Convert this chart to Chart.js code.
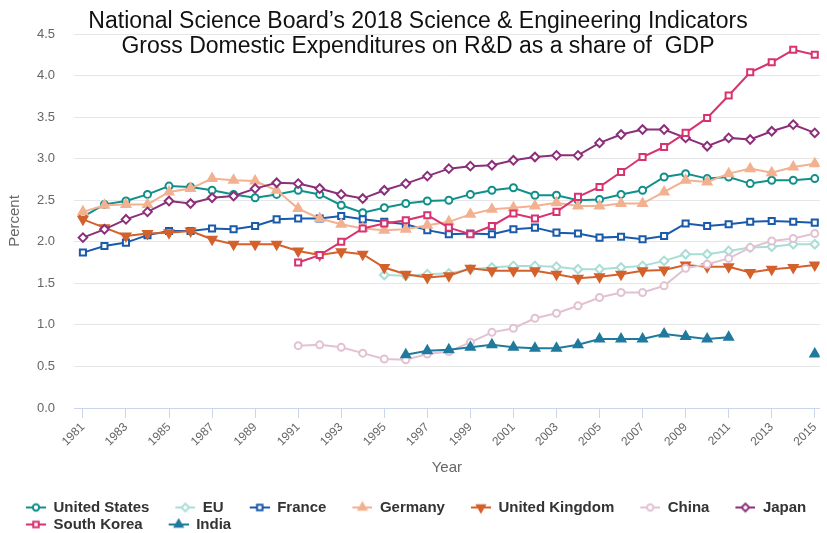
<!DOCTYPE html>
<html>
<head>
<meta charset="utf-8">
<script src="https://cdn.jsdelivr.net/npm/chart.js@4.4.1/dist/chart.umd.min.js"></script>
<style>
  body { margin: 0; background: #fff; }
  #wrap { position: relative; width: 827px; height: 533px; }
  #title {
    position: absolute; left: 418px; top: 8px; transform: translateX(-50%);
    white-space: nowrap; text-align: center; color: #111; pointer-events: none;
    font: 23px/25px "Liberation Sans", Arial, sans-serif;
  }
</style>
</head>
<body>
<div id="wrap">
  <canvas id="rdChart"></canvas>
  <div id="title">National Science Board’s 2018 Science &amp; Engineering Indicators<br>Gross Domestic Expenditures on R&amp;D as a share of&nbsp; GDP</div>
</div>
<script>
    // Years on the x axis
    const years = [1981, 1982, 1983, 1984, 1985, 1986, 1987, 1988, 1989, 1990,
      1991, 1992, 1993, 1994, 1995, 1996, 1997, 1998, 1999, 2000,
      2001, 2002, 2003, 2004, 2005, 2006, 2007, 2008, 2009, 2010,
      2011, 2012, 2013, 2014, 2015];

    // Odd years get a tick label
    const tickYears = [1981, 1983, 1985, 1987, 1989, 1991, 1993, 1995, 1997, 1999,
      2001, 2003, 2005, 2007, 2009, 2011, 2013, 2015];

    // R&D spending, percent of GDP (null = no data)
    const unitedStates = [2.30, 2.45, 2.49, 2.57, 2.67, 2.66, 2.62, 2.57, 2.53, 2.57,
      2.62, 2.57, 2.44, 2.35, 2.41, 2.46, 2.49, 2.50, 2.57, 2.62,
      2.65, 2.56, 2.56, 2.50, 2.51, 2.57, 2.62, 2.78, 2.82, 2.76,
      2.78, 2.70, 2.74, 2.74, 2.76];
    const eu = [null, null, null, null, null, null, null, null, null, null,
      null, null, null, null, 1.60, 1.59, 1.61, 1.62, 1.67, 1.69,
      1.71, 1.71, 1.70, 1.67, 1.67, 1.69, 1.71, 1.77, 1.85, 1.85,
      1.89, 1.93, 1.94, 1.97, 1.97];
    const france = [1.87, 1.95, 1.99, 2.08, 2.13, 2.13, 2.16, 2.15, 2.19, 2.27,
      2.28, 2.28, 2.31, 2.27, 2.24, 2.21, 2.14, 2.09, 2.10, 2.09,
      2.15, 2.17, 2.11, 2.10, 2.05, 2.06, 2.03, 2.07, 2.22, 2.19,
      2.21, 2.24, 2.25, 2.24, 2.23];
    const germany = [2.36, 2.44, 2.45, 2.45, 2.60, 2.64, 2.76, 2.74, 2.73, 2.62,
      2.40, 2.28, 2.21, 2.16, 2.14, 2.15, 2.20, 2.24, 2.33, 2.39,
      2.41, 2.43, 2.47, 2.43, 2.43, 2.46, 2.46, 2.60, 2.74, 2.72,
      2.82, 2.88, 2.83, 2.90, 2.94];
    const unitedKingdom = [2.27, 2.17, 2.07, 2.10, 2.11, 2.13, 2.03, 1.97, 1.97, 1.97,
      1.89, 1.84, 1.88, 1.85, 1.69, 1.61, 1.57, 1.59, 1.68, 1.65,
      1.65, 1.65, 1.61, 1.56, 1.58, 1.61, 1.65, 1.66, 1.72, 1.70,
      1.70, 1.63, 1.67, 1.69, 1.72];
    const china = [null, null, null, null, null, null, null, null, null, null,
      0.75, 0.76, 0.73, 0.66, 0.59, 0.58, 0.65, 0.68, 0.79, 0.91,
      0.96, 1.08, 1.14, 1.23, 1.33, 1.39, 1.39, 1.47, 1.68, 1.73,
      1.80, 1.93, 2.01, 2.04, 2.10];
    const japan = [2.05, 2.15, 2.27, 2.36, 2.49, 2.46, 2.53, 2.55, 2.64, 2.71,
      2.70, 2.64, 2.57, 2.52, 2.62, 2.70, 2.79, 2.88, 2.91, 2.92,
      2.98, 3.02, 3.04, 3.04, 3.19, 3.29, 3.35, 3.35, 3.25, 3.15,
      3.25, 3.23, 3.33, 3.41, 3.31];
    const southKorea = [null, null, null, null, null, null, null, null, null, null,
      1.75, 1.84, 2.00, 2.16, 2.22, 2.26, 2.32, 2.17, 2.09, 2.19,
      2.34, 2.28, 2.36, 2.54, 2.66, 2.84, 3.02, 3.14, 3.31, 3.49,
      3.76, 4.04, 4.16, 4.31, 4.25];
    const india = [null, null, null, null, null, null, null, null, null, null,
      null, null, null, null, null, 0.64, 0.69, 0.70, 0.73, 0.76,
      0.73, 0.72, 0.72, 0.76, 0.83, 0.83, 0.83, 0.89, 0.86, 0.83,
      0.85, null, null, null, 0.65];

    // Series look: name, data, colour, marker
    const seriesList = [
      { label: 'United States', data: unitedStates, color: '#11908a', shape: 'circle', radius: 3.5, filled: false },
      { label: 'EU', data: eu, color: '#a9ddd6', shape: 'rectRot', radius: 4.3, filled: false },
      { label: 'France', data: france, color: '#1a5aab', shape: 'rect', radius: 4.3, filled: false },
      { label: 'Germany', data: germany, color: '#f2b191', shape: 'triangle', radius: 5, filled: true },
      { label: 'United Kingdom', data: unitedKingdom, color: '#d4612b', shape: 'triangle', radius: 5, filled: true, rotation: 180 },
      { label: 'China', data: china, color: '#e2c2d2', shape: 'circle', radius: 3.5, filled: false },
      { label: 'Japan', data: japan, color: '#8b2f7a', shape: 'rectRot', radius: 4.3, filled: false },
      { label: 'South Korea', data: southKorea, color: '#d8336f', shape: 'rect', radius: 4.3, filled: false },
      { label: 'India', data: india, color: '#1f7a9e', shape: 'triangle', radius: 5, filled: true }
    ];

    // Small line + marker pictures for the legend
    function legendIcon(s) {
      const c = document.createElement('canvas');
      c.width = 44;
      c.height = 16;
      const g = c.getContext('2d');
      g.strokeStyle = s.color;
      g.lineWidth = 2;
      g.beginPath();
      g.moveTo(24, 8);
      g.lineTo(44, 8);
      g.stroke();
      g.fillStyle = s.filled ? s.color : '#ffffff';
      Chart.helpers.drawPoint(g, { pointStyle: s.shape, radius: s.radius * 0.9, rotation: s.rotation || 0, borderWidth: 2 }, 34, 8);
      return c;
    }
    const legendIcons = seriesList.map(legendIcon);

    const datasets = seriesList.map((s, i) => ({
      label: s.label,
      data: s.data.map((v, k) => ({ x: years[k], y: v })),
      borderColor: s.color,
      backgroundColor: s.color,
      borderWidth: 2,
      pointStyle: s.shape,
      pointRadius: s.radius,
      pointRotation: s.rotation || 0,
      pointBackgroundColor: s.filled ? s.color : '#ffffff',
      pointBorderColor: s.color,
      pointBorderWidth: 2,
      spanGaps: false,
      order: -i
    }));

    const gridGrey = '#e6e6e6';
    const axisBlue = '#ccd6eb';
    const labelGrey = '#666666';

    new Chart(document.getElementById('rdChart'), {
      type: 'line',
      data: { datasets: datasets },
      options: {
        responsive: true,
        maintainAspectRatio: false,
        animation: false,
        layout: { padding: { top: 34, left: 0, right: 0, bottom: 0 } },
        plugins: {
          title: { display: false },
          tooltip: { enabled: false },
          legend: {
            position: 'bottom',
            align: 'start',
            maxHeight: 35,
            labels: {
              usePointStyle: true,
              pointStyleWidth: 44,
              padding: 2,
              color: '#333333',
              font: { family: '"Liberation Sans", Arial, sans-serif', size: 15, weight: 'bold' },
              sort: (a, b) => a.datasetIndex - b.datasetIndex,
              generateLabels: (chart) => {
                const items = Chart.defaults.plugins.legend.labels.generateLabels(chart);
                items.forEach(it => { it.pointStyle = legendIcons[it.datasetIndex]; it.rotation = 0; });
                return items;
              }
            }
          }
        },
        scales: {
          x: {
            type: 'linear',
            min: 1980.586,
            max: 2015.23,
            afterFit: (scale) => { scale.height = 90; },
            afterBuildTicks: (scale) => { scale.ticks = tickYears.map(v => ({ value: v })); },
            grid: { drawOnChartArea: false, drawTicks: true, tickLength: 10, color: axisBlue },
            border: { color: axisBlue, width: 1 },
            ticks: {
              autoSkip: false,
              minRotation: 45,
              maxRotation: 45,
              padding: 2,
              color: labelGrey,
              font: { family: '"Liberation Sans", Arial, sans-serif', size: 12 },
              callback: (v) => String(v)
            },
            title: {
              display: true,
              text: 'Year',
              color: labelGrey,
              font: { family: '"Liberation Sans", Arial, sans-serif', size: 15 },
              padding: { top: 0, bottom: 21 }
            }
          },
          y: {
            min: 0,
            max: 4.5,
            afterFit: (scale) => { scale.width = 74; },
            grid: { color: gridGrey, drawTicks: false },
            border: { display: false },
            ticks: {
              stepSize: 0.5,
              padding: 19,
              color: labelGrey,
              font: { family: '"Liberation Sans", Arial, sans-serif', size: 13 },
              callback: (v) => v.toFixed(1)
            },
            title: {
              display: true,
              text: 'Percent',
              color: labelGrey,
              font: { family: '"Liberation Sans", Arial, sans-serif', size: 15 },
              padding: { top: 6, bottom: 0 }
            }
          }
        }
      }
    });
</script>
</body>
</html>
